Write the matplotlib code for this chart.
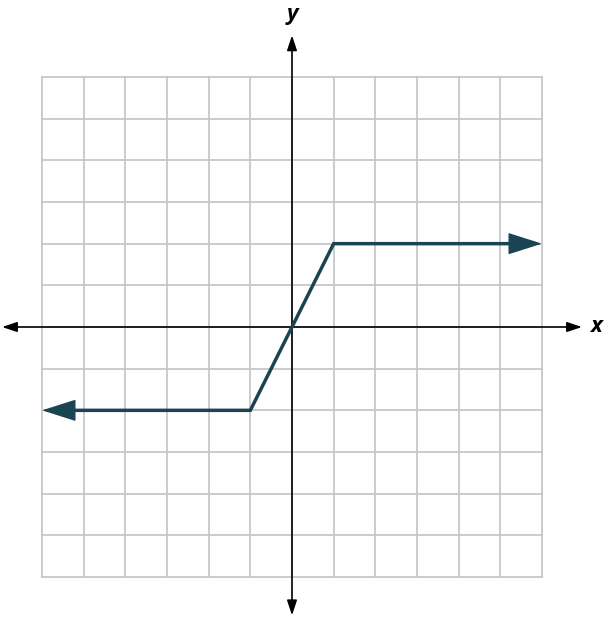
import matplotlib

matplotlib.use("Agg")
import matplotlib.pyplot as plt
import numpy as np

# piecewise graph: flat, rising, flat (arrows at both ends)
xs = [-6, -1, 1, 6]
ys = [-2, -2, 2, 2]
grid_ticks = np.arange(-6, 7)

line_color = "#1B4453"
grid_color = "#c8c8c8"

fig = plt.figure(figsize=(6.08, 6.20), dpi=100)
ax = fig.add_axes([0, 0, 1, 1])
unit = 500 / 12
ax.set_xlim(-292 / unit, (608 - 292) / unit)
ax.set_ylim((327 - 620) / unit, 327 / unit)
ax.axis("off")

for t in grid_ticks:
    ax.plot([t, t], [-6, 6], color=grid_color, lw=1.3, zorder=1)
    ax.plot([-6, 6], [t, t], color=grid_color, lw=1.3, zorder=1)

axis_arrow = dict(arrowstyle="<|-|>,head_length=0.9,head_width=0.3",
                  color="black", lw=1.2, shrinkA=0, shrinkB=0)
ax.annotate("", xy=(6.96, 0), xytext=(-6.96, 0), arrowprops=axis_arrow, zorder=2)
ax.annotate("", xy=(0, 7.0), xytext=(0, -6.92), arrowprops=axis_arrow, zorder=2)

ax.text(7.3, 0, "x", fontsize=16, fontweight="bold", fontstyle="italic",
        family="Open Sans", ha="center", va="center")
ax.text(0, 7.5, "y", fontsize=16, fontweight="bold", fontstyle="italic",
        family="Open Sans", ha="center", va="center")

# body of the curve stops short of the ends so the arrowheads form the tips
body_x = [xs[0] + 0.5] + xs[1:-1] + [xs[-1] - 0.5]
ax.plot(body_x, ys, color=line_color, lw=2.5, zorder=3,
        solid_joinstyle="miter", solid_capstyle="butt")

head = dict(arrowstyle="-|>,head_length=2.2,head_width=0.7",
            color=line_color, lw=1.0, shrinkA=0, shrinkB=0)
ax.annotate("", xy=(xs[0], ys[0]), xytext=(xs[1], ys[1]), arrowprops=head, zorder=4)
ax.annotate("", xy=(xs[-1], ys[-1]), xytext=(xs[-2], ys[-2]), arrowprops=head, zorder=4)

fig.savefig("out.png", dpi=100)
